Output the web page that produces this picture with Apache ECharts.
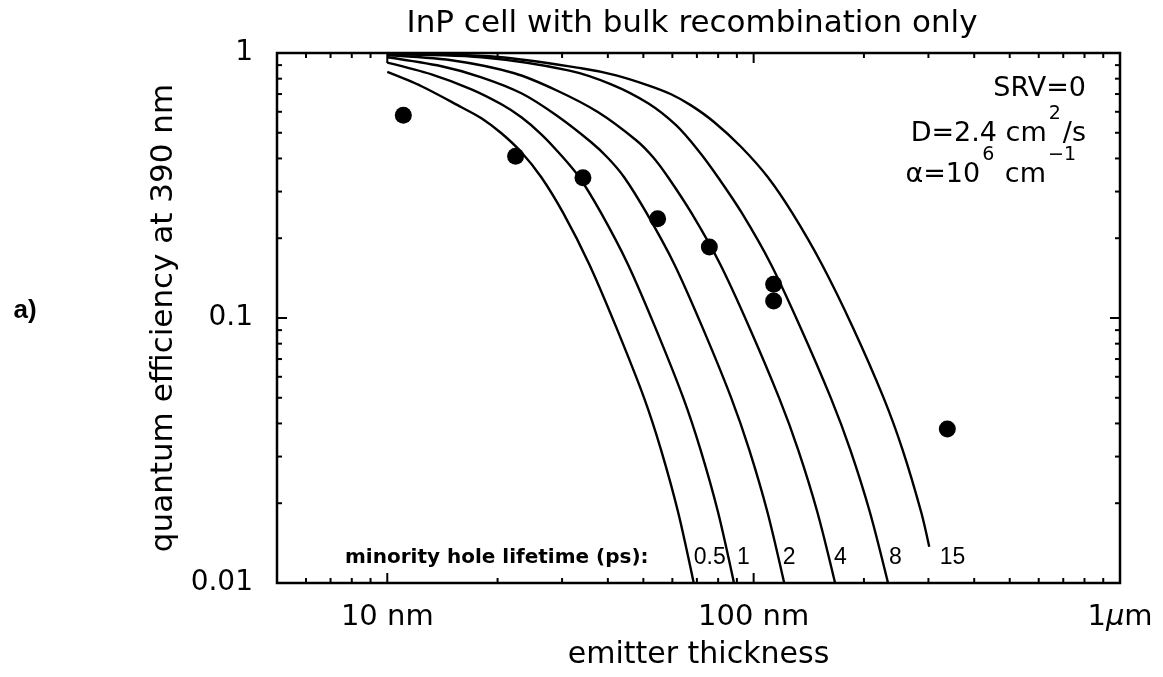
<!DOCTYPE html>
<html>
<head>
<meta charset="utf-8">
<script src="https://cdn.jsdelivr.net/npm/echarts@6/dist/echarts.min.js"></script>
<style>
  html, body { margin: 0; padding: 0; background: #fff; }
  #chart { width: 1163px; height: 677px; }
</style>
</head>
<body>
<div id="chart"></div>
<script>
// Axis extents and tick values (emitter thickness in nm, quantum efficiency)
const xRange = [5, 1000];
const yRange = [0.01, 1];
const xMajorTicks = [10, 100];
const xMinorTicks = [6, 7, 8, 9, 20, 30, 40, 50, 60, 70, 80, 90, 200, 300, 400, 500, 600, 700, 800, 900];
const yMajorTicks = [0.1];
const yMinorTicks = [0.02, 0.03, 0.04, 0.05, 0.06, 0.07, 0.08, 0.09, 0.2, 0.3, 0.4, 0.5, 0.6, 0.7, 0.8, 0.9];
const xTickText = { 1: '10 nm', 2: '100 nm', 3: '1{mu|\u03bc}m' };
const yTickText = { '-2': '0.01', '-1': '0.1', '0': '1' };

// Minority hole lifetimes (ps) of the modelled curves
const lifetimes = ['0.5', '1', '2', '4', '8', '15'];

// Modelled quantum efficiency vs emitter thickness [nm, QE]
const qe_0_5ps = [[10, 0.848], [12.40, 0.7489], [15.94, 0.6240], [18.07, 0.5672], [20.49, 0.4979],
  [23.23, 0.4222], [26.33, 0.3398], [30.23, 0.2486], [35.58, 0.1596], [42.15, 0.09236], [50.25, 0.04986],
  [55.90, 0.03174], [62.19, 0.01853], [68.63, 0.01]];
const qe_1ps = [[10, 0.9201], [13.20, 0.8311], [16.97, 0.7296], [20.49, 0.6405], [23.23, 0.5721],
  [26.33, 0.4936], [29.48, 0.4185], [33.42, 0.3398], [38.36, 0.2486], [45.36, 0.1596], [53.84, 0.09236],
  [64.29, 0.04986], [71.67, 0.03174], [79.93, 0.01853], [88.38, 0.01]];
const qe_2ps = [[10, 0.9634], [14.06, 0.8910], [18.07, 0.8097], [23.23, 0.7047], [28.93, 0.5822],
  [36.03, 0.4605], [40.09, 0.4008], [44.32, 0.3398], [51.04, 0.2486], [60.73, 0.1596], [72.44, 0.09236],
  [86.89, 0.04986], [97.34, 0.03174], [109.04, 0.01853], [121.18, 0.01]];
const qe_4ps = [[10, 0.9802], [14.97, 0.9386], [22.23, 0.8385], [28.93, 0.7233], [37.65, 0.5975],
  [47.79, 0.4685], [53.16, 0.4042], [58.41, 0.3398], [67.69, 0.2486], [81.04, 0.1596], [97.28, 0.09236],
  [117.42, 0.04986], [132.37, 0.03174], [149.22, 0.01853], [166.85, 0.01]];
const qe_8ps = [[10, 0.9888], [18.07, 0.9634], [31.19, 0.8603], [40.85, 0.7619], [51.52, 0.6461],
  [61.42, 0.5338], [70.51, 0.4296], [79.93, 0.3398], [92.92, 0.2486], [111.47, 0.1596], [134.13, 0.09236],
  [162.52, 0.04986], [183.69, 0.03174], [207.58, 0.01853], [232.71, 0.01]];
const qe_15ps = [[10, 0.9974], [20.10, 0.9659], [33.84, 0.8756], [42.15, 0.8239], [51.52, 0.7553],
  [59.52, 0.6990], [67.48, 0.6344], [77.95, 0.5492], [92.34, 0.4428], [109.38, 0.3398], [127.56, 0.2486],
  [153.50, 0.1596], [186.45, 0.09236], [226.50, 0.04986], [255.16, 0.03174], [286.58, 0.01853],
  [301.51, 0.01371]];
const modelCurves = [qe_0_5ps, qe_1ps, qe_2ps, qe_4ps, qe_8ps, qe_15ps];

// Measured cells
const measuredThickness = [11.06, 22.4, 34.2, 54.7, 75.7, 113.4, 113.4, 337.8];
const measuredQE = [0.582, 0.408, 0.338, 0.237, 0.1855, 0.134, 0.116, 0.0381];

// ---- presentation ----
const FONT = '"DejaVu Sans", "Liberation Sans", sans-serif';
const NUM_FONT = '"Liberation Sans", Arial, sans-serif';
const INK = '#000';
const endLabelOffsets = [[0, -25], [3, -25], [-1.5, -25], [-1, -25], [1, -25], [10.5, 11]];

const chart = echarts.init(document.getElementById('chart'), null, { renderer: 'canvas' });

// Short inward tick marks on all four sides of the frame
function tickRenderer(isX) {
  return function (params, api) {
    const major = api.value(2) === 1;
    const len = major ? 10 : 5;
    const st = { stroke: INK, lineWidth: 2 };
    if (isX) {
      const v = api.value(0);
      const b = api.coord([v, yRange[0]]);
      const t = api.coord([v, yRange[1]]);
      return { type: 'group', children: [
        { type: 'line', shape: { x1: b[0], y1: b[1], x2: b[0], y2: b[1] - len }, style: st },
        { type: 'line', shape: { x1: t[0], y1: t[1], x2: t[0], y2: t[1] + len }, style: st }
      ] };
    }
    const v = api.value(1);
    const l = api.coord([xRange[0], v]);
    const r = api.coord([xRange[1], v]);
    return { type: 'group', children: [
      { type: 'line', shape: { x1: l[0], y1: l[1], x2: l[0] + len, y2: l[1] }, style: st },
      { type: 'line', shape: { x1: r[0], y1: r[1], x2: r[0] - len, y2: r[1] }, style: st }
    ] };
  };
}

const xTickData = xMajorTicks.map(v => [v, yRange[0], 1]).concat(xMinorTicks.map(v => [v, yRange[0], 0]));
const yTickData = yMajorTicks.map(v => [xRange[0], v, 1]).concat(yMinorTicks.map(v => [xRange[0], v, 0]));

function decade(v) {
  const e = Math.log10(v);
  const r = Math.round(e);
  return Math.abs(e - r) < 1e-6 ? r : null;
}

const lineSeries = modelCurves.map((curve, i) => ({
  type: 'line',
  name: lifetimes[i],
  data: curve,
  smooth: 0.3,
  symbol: 'none',
  lineStyle: { color: INK, width: 2.4 },
  z: 3,
  endLabel: {
    show: true,
    formatter: lifetimes[i],
    distance: 0,
    offset: endLabelOffsets[i],
    align: 'left',
    verticalAlign: 'middle',
    color: INK,
    fontFamily: NUM_FONT,
    fontSize: 23
  }
}));

const supStyle = { fontSize: 19, fontFamily: FONT, lineHeight: 18, verticalAlign: 'top', padding: [0, 2, 0, 2], fill: INK };

const option = {
  animation: false,
  backgroundColor: '#fff',
  grid: {
    left: 277, right: 43, top: 53, bottom: 94,
    show: true, borderColor: INK, borderWidth: 2.5, backgroundColor: 'transparent'
  },
  xAxis: {
    type: 'log', logBase: 10, min: xRange[0], max: xRange[1],
    axisLine: { show: false }, axisTick: { show: false }, splitLine: { show: false },
    axisLabel: {
      margin: 20, color: INK, fontFamily: FONT, fontSize: 29,
      showMinLabel: true, showMaxLabel: true,
      formatter: v => { const d = decade(v); return d !== null && xTickText[d] ? xTickText[d] : ''; },
      rich: { mu: { fontStyle: 'italic', fontFamily: FONT, fontSize: 29, color: INK } }
    },
    name: 'emitter thickness', nameLocation: 'middle', nameGap: 57,
    nameTextStyle: { color: INK, fontFamily: FONT, fontSize: 30 }
  },
  yAxis: {
    type: 'log', logBase: 10, min: yRange[0], max: yRange[1],
    axisLine: { show: false }, axisTick: { show: false }, splitLine: { show: false },
    axisLabel: {
      margin: 24, color: INK, fontFamily: FONT, fontSize: 28,
      formatter: v => { const d = decade(v); return d !== null && yTickText[d] ? yTickText[d] : ''; }
    },
    name: 'quantum efficiency at 390 nm', nameLocation: 'middle', nameGap: 92, nameRotate: 90,
    nameTextStyle: { color: INK, fontFamily: FONT, fontSize: 31 }
  },
  series: lineSeries.concat([
    {
      type: 'scatter',
      data: measuredThickness.map((t, i) => [t, measuredQE[i]]),
      symbol: 'circle', symbolSize: 17,
      itemStyle: { color: INK, opacity: 1 }, z: 4
    },
    { type: 'custom', renderItem: tickRenderer(true), data: xTickData, z: 5, silent: true },
    { type: 'custom', renderItem: tickRenderer(false), data: yTickData, z: 5, silent: true }
  ]),
  graphic: [
    {
      type: 'text', x: 692, y: 24, z: 10,
      style: { text: 'InP cell with bulk recombination only', fill: INK, font: '31px ' + FONT,
        textAlign: 'center', align: 'center', textVerticalAlign: 'middle', verticalAlign: 'middle' }
    },
    {
      type: 'text', x: 25, y: 311, z: 10,
      style: { text: 'a)', fill: INK, font: 'bold 26px ' + NUM_FONT,
        textAlign: 'center', align: 'center', textVerticalAlign: 'middle', verticalAlign: 'middle' }
    },
    {
      type: 'text', x: 345, y: 558, z: 10,
      style: { text: 'minority hole lifetime (ps):', fill: INK, font: 'bold 20px ' + FONT,
        textAlign: 'left', align: 'left', textVerticalAlign: 'middle', verticalAlign: 'middle' }
    },
    {
      type: 'text', x: 1086, y: 89, z: 10,
      style: { text: 'SRV=0', fill: INK, fontSize: 27, fontFamily: FONT,
        textAlign: 'right', align: 'right', textVerticalAlign: 'middle', verticalAlign: 'middle' }
    },
    {
      type: 'text', x: 1086, y: 134, z: 10,
      style: {
        text: 'D=2.4 cm{sup|2}/s', fill: INK, fontSize: 27, fontFamily: FONT, lineHeight: 58,
        textAlign: 'right', align: 'right', textVerticalAlign: 'middle', verticalAlign: 'middle',
        rich: { sup: supStyle }
      }
    },
    {
      type: 'text', x: 1078, y: 175, z: 10,
      style: {
        text: '\u03b1=10{sup|6} cm{sup|\u22121}', fill: INK, fontSize: 27, fontFamily: FONT, lineHeight: 58,
        textAlign: 'right', align: 'right', textVerticalAlign: 'middle', verticalAlign: 'middle',
        rich: { sup: supStyle }
      }
    }
  ]
};

chart.setOption(option);
</script>
</body>
</html>
